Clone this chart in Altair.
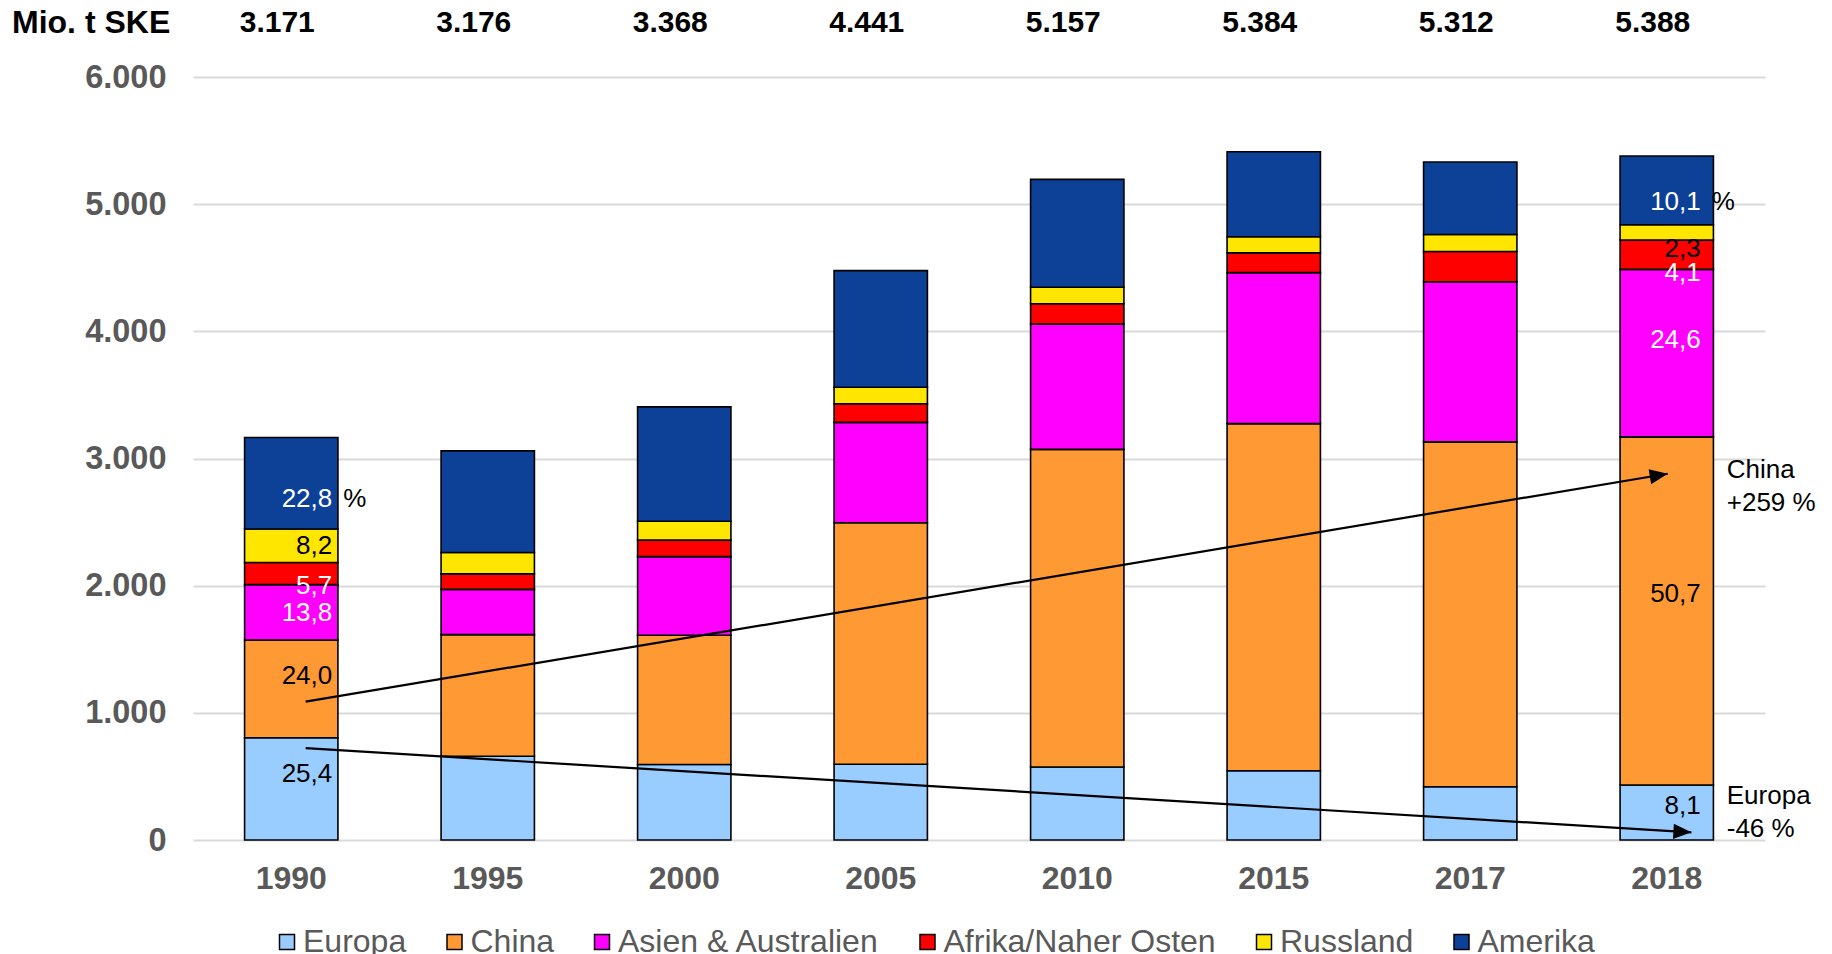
import altair as alt
import pandas as pd

FONT = "Liberation Sans"

years = ["1990", "1995", "2000", "2005", "2010", "2015", "2017", "2018"]
regions = ["Europa", "China", "Asien & Australien", "Afrika/Naher Osten", "Russland", "Amerika"]
colors = ["#99CCFF", "#FF9933", "#FF00FF", "#FF0000", "#FFE600", "#0D4198"]

europa = [804, 659, 594, 596, 574, 545, 419, 433]
china = [769, 956, 1016, 1899, 2498, 2729, 2712, 2737]
asien = [435, 356, 618, 789, 986, 1188, 1259, 1317]
afrika = [174, 122, 130, 147, 159, 155, 238, 231]
russland = [264, 168, 149, 129, 130, 127, 134, 120]
amerika = [719, 799, 899, 917, 848, 668, 570, 541]

totals_text = ["3.171", "3.176", "3.368", "4.441", "5.157", "5.384", "5.312", "5.388"]
unit_label = "Mio. t SKE"

# share labels (percent) for 1990 and 2018
pct_1990_text = ["25,4", "24,0", "13,8", "5,7", "8,2", "22,8"]
pct_1990_pos = [519, 1287, 1784, 1996, 2311, 2678]
pct_1990_color = ["black", "black", "white", "white", "black", "white"]
pct_2018_text = ["8,1", "50,7", "24,6", "4,1", "2,3", "10,1"]
pct_2018_pos = [271, 1931, 3928, 4458, 4646, 5018]
pct_2018_color = ["black", "black", "white", "white", "black", "white"]

# change annotations
note_text = ["China", "+259 %", "Europa", "-46 %"]
note_pos = [2906, 2653, 343, 90]

# trend arrows (start value at 1990, end value at 2018)
china_arrow = [1088, 2880]
europa_arrow = [722, 60]

series = [europa, china, asien, afrika, russland, amerika]
rows = []
for i, (reg, vals) in enumerate(zip(regions, series)):
    for yr, v in zip(years, vals):
        rows.append({"year": yr, "region": reg, "value": v, "ord": i})
bars_df = pd.DataFrame(rows)

y_scale = alt.Scale(domain=[0, 6000], nice=False)

bars = alt.Chart(bars_df).mark_bar(stroke="black", strokeWidth=1.6).encode(
    x=alt.X(
        "year:N", sort=years,
        scale=alt.Scale(paddingInner=0.525, paddingOuter=0.2625),
        axis=alt.Axis(title=None, labelFontSize=32, labelFontWeight="bold", labelColor="#595959",
                      labelFont=FONT, ticks=False, domain=False, labelPadding=23, labelAngle=0, grid=False),
    ),
    y=alt.Y(
        "value:Q", stack="zero", scale=y_scale,
        axis=alt.Axis(title=None, values=[0, 1000, 2000, 3000, 4000, 5000, 6000],
                      labelExpr="replace(format(datum.value, ','), ',', '.')",
                      labelFontSize=32.5, labelFontWeight="bold", labelColor="#595959", labelFont=FONT,
                      ticks=False, domain=False, labelPadding=27,
                      grid=True, gridColor="#D9D9D9", gridWidth=1.8),
    ),
    color=alt.Color(
        "region:N", scale=alt.Scale(domain=regions, range=colors),
        legend=alt.Legend(title=None, orient="none", legendX=78, legendY=849, direction="horizontal",
                          columns=6, symbolType="square", symbolSize=225, symbolStrokeColor="black",
                          symbolStrokeWidth=1.5, labelFont=FONT, labelFontSize=32, labelColor="#595959",
                          columnPadding=31.5, labelOffset=0, padding=0, labelLimit=0),
    ),
    order=alt.Order("ord:Q", sort="ascending"),
)

tot_df = pd.DataFrame({"year": years, "label": totals_text})
tops = alt.Chart(tot_df).mark_text(
    font=FONT, fontSize=30, fontWeight="bold", color="black", baseline="middle", dx=-14
).encode(x=alt.X("year:N", sort=years, title=None), y=alt.value(-54), text="label:N")

unit = alt.Chart(pd.DataFrame({"t": [unit_label]})).mark_text(
    font=FONT, fontSize=32, fontWeight="bold", color="black", baseline="middle", align="left"
).encode(x=alt.value(-181), y=alt.value(-54), text="t:N")

p90 = pd.DataFrame({"year": "1990", "pos": pct_1990_pos, "txt": pct_1990_text, "col": pct_1990_color})
p18 = pd.DataFrame({"year": "2018", "pos": pct_2018_pos, "txt": pct_2018_text, "col": pct_2018_color})


def pct_layer(df, dx):
    return alt.Chart(df).mark_text(font=FONT, fontSize=26, align="right", baseline="middle", dx=dx).encode(
        x=alt.X("year:N", sort=years, title=None),
        y=alt.Y("pos:Q", scale=y_scale, title=None),
        text="txt:N",
        color=alt.Color("col:N", scale=None),
    )


lab90 = pct_layer(p90, 41)
lab18 = pct_layer(p18, 34)

pc90 = alt.Chart(pd.DataFrame({"year": ["1990"], "pos": [pct_1990_pos[-1]], "txt": ["%"]})).mark_text(
    font=FONT, fontSize=26, align="left", baseline="middle", dx=52, color="black"
).encode(x=alt.X("year:N", sort=years, title=None), y=alt.Y("pos:Q", scale=y_scale, title=None), text="txt:N")
pc18 = alt.Chart(pd.DataFrame({"year": ["2018"], "pos": [pct_2018_pos[-1]], "txt": ["%"]})).mark_text(
    font=FONT, fontSize=26, align="left", baseline="middle", dx=45, color="black"
).encode(x=alt.X("year:N", sort=years, title=None), y=alt.Y("pos:Q", scale=y_scale, title=None), text="txt:N")

notes = alt.Chart(pd.DataFrame({"year": "2018", "pos": note_pos, "txt": note_text})).mark_text(
    font=FONT, fontSize=26, align="left", baseline="middle", dx=60, color="black"
).encode(x=alt.X("year:N", sort=years, title=None), y=alt.Y("pos:Q", scale=y_scale, title=None), text="txt:N")


def arrow(vals, end_band, angle):
    df = pd.DataFrame({"year": ["1990"], "end": ["2018"], "v0": [vals[0]], "v1": [vals[1]]})
    line = alt.Chart(df).mark_rule(color="black", strokeWidth=2.2).encode(
        x=alt.X("year:N", sort=years, title=None, bandPosition=0.654),
        x2=alt.X2("end:N", bandPosition=end_band),
        y=alt.Y("v0:Q", scale=y_scale, title=None),
        y2="v1:Q",
    )
    head = alt.Chart(df).mark_point(
        shape="M0,0 L-2,-0.85 L-2,0.85 Z", filled=True, color="black", opacity=1, size=324, angle=angle
    ).encode(
        x=alt.X("end:N", sort=years, title=None, bandPosition=end_band),
        y=alt.Y("v1:Q", scale=y_scale, title=None),
    )
    return line + head


arr_china = arrow(china_arrow, 0.51, 350.5)
arr_europa = arrow(europa_arrow, 0.764, 3.4)

chart = alt.layer(
    bars, tops, unit, lab90, lab18, pc90, pc18, notes, arr_china, arr_europa
).properties(
    width=1572, height=763,
    padding={"left": 185, "top": 69, "right": 59, "bottom": 114},
    autosize=alt.AutoSizeParams(type="none"),
).configure(font=FONT).configure_view(stroke=None)

chart.save("out.html", embed_options={"renderer": "svg", "actions": False})
